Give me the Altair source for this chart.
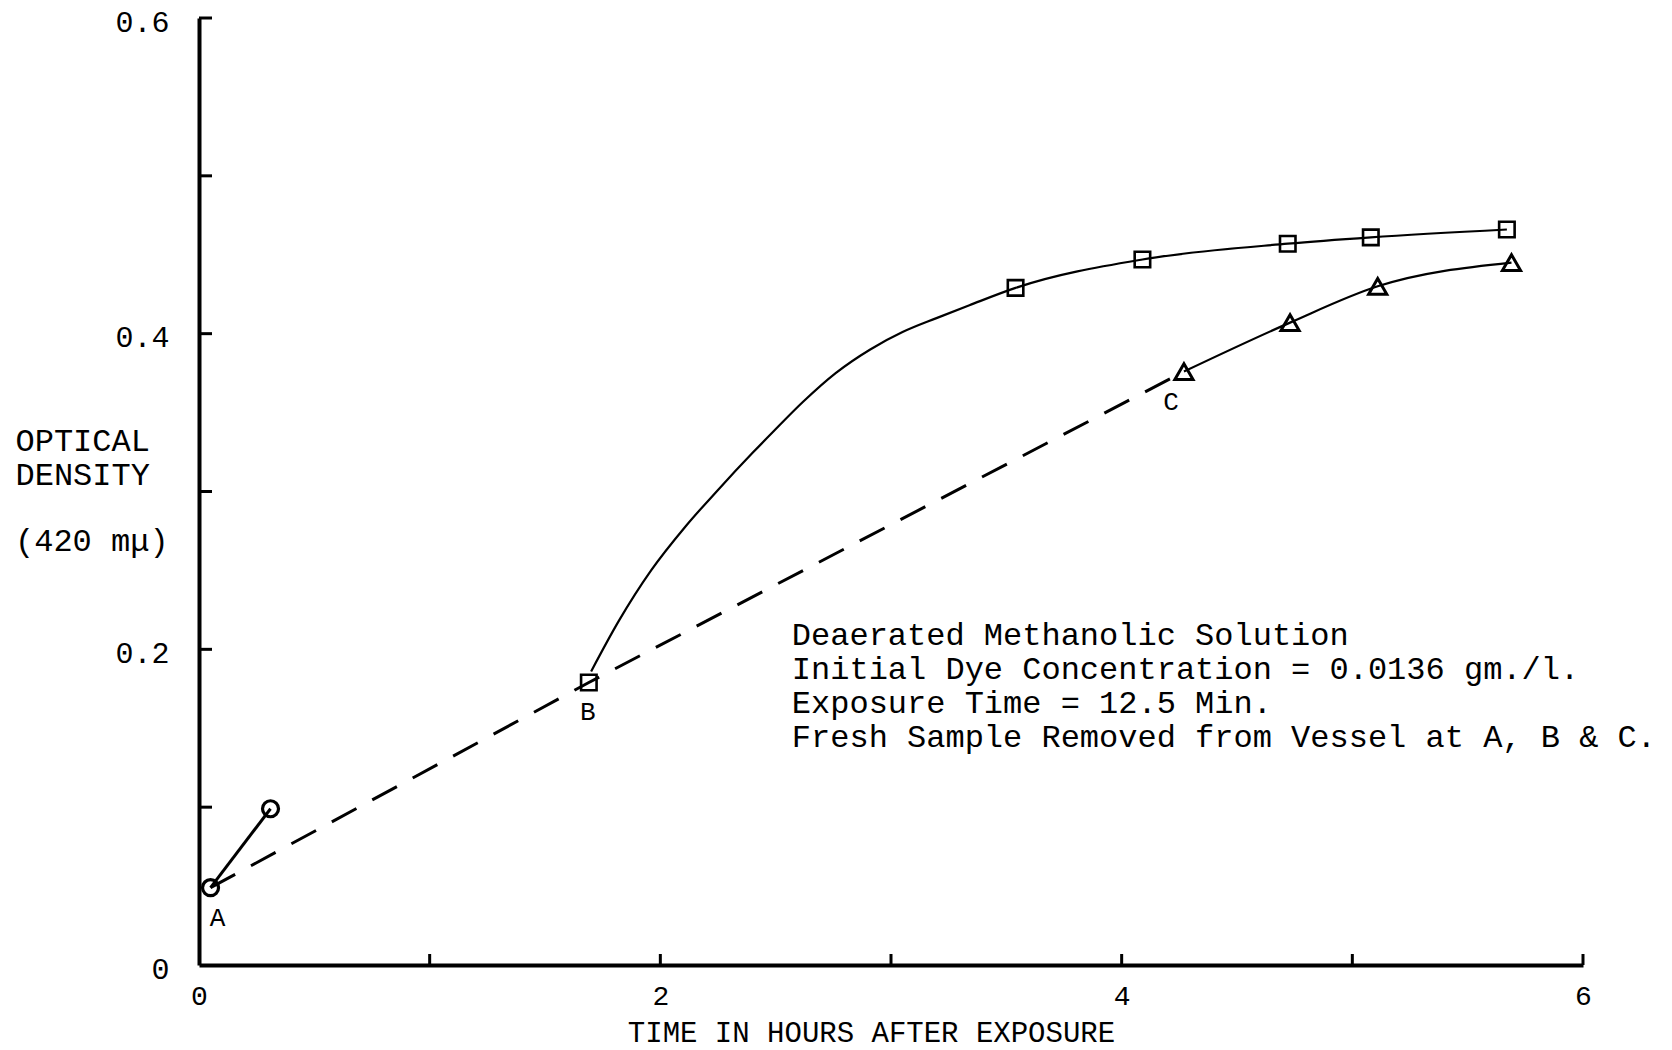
import altair as alt
import pandas as pd

# ---------------- data ----------------
# circles (series starting at A)
circle_t = [0.05, 0.31]
circle_od = [0.049, 0.099]

# squares (series starting at B)
square_t = [1.69, 3.54, 4.09, 4.72, 5.08, 5.67]
square_od = [0.179, 0.429, 0.447, 0.457, 0.461, 0.466]

# hand-drawn smooth curve through the squares
square_curve_t = [1.70, 1.82, 1.96, 2.11, 2.25, 2.40, 2.49, 2.62, 2.76, 2.91,
                  3.05, 3.20, 3.34, 3.54, 4.09, 4.72, 5.08, 5.67]
square_curve_od = [0.186, 0.218, 0.250, 0.278, 0.301, 0.3245, 0.338, 0.357, 0.375,
                   0.390, 0.401, 0.410, 0.418, 0.429, 0.447, 0.457, 0.461, 0.466]

# triangles (series starting at C)
triangle_t = [4.27, 4.73, 5.11, 5.69]
triangle_od = [0.376, 0.407, 0.430, 0.445]

# dashed line joining the fresh samples A, B, C
dash_t = [0.05, 1.69, 4.27]
dash_od = [0.049, 0.179, 0.376]

# point labels
label_text = ["A", "B", "C"]
label_t = [0.05, 1.69, 4.27]
label_od = [0.049, 0.179, 0.376]

# axis ticks and labels
x_tick_values = [1, 2, 3, 4, 5, 6]
x_label_values = [0, 2, 4, 6]
y_tick_values = [0.1, 0.2, 0.3, 0.4, 0.5, 0.6]
y_label_values = [0, 0.2, 0.4, 0.6]

x_title = "TIME IN HOURS AFTER EXPOSURE"
y_title = ["OPTICAL", "DENSITY"]
y_unit = "(420 m\u03bc)"

annot_lines = [
    "Deaerated Methanolic Solution",
    "Initial Dye Concentration = 0.0136 gm./l.",
    "Exposure Time = 12.5 Min.",
    "Fresh Sample Removed from Vessel at A, B & C.",
]
annot_t = 2.57
annot_od = 0.203

# ---------------- styling ----------------
FONT = "Liberation Mono"
W, H = 1384, 947
INK = "black"

xs = alt.Scale(domain=[0, 6], nice=False, zero=False)
ys = alt.Scale(domain=[0, 0.6], nice=False, zero=False)

x_axis = alt.Axis(
    values=x_label_values, labelExpr="format(datum.value, 'd')",
    ticks=False, grid=False, domain=True, domainWidth=4, domainColor=INK,
    labelFont=FONT, labelFontSize=28, labelColor=INK, labelPadding=17,
    labelFlush=False, labelOverlap=False,
    title=x_title, titleFont=FONT, titleFontSize=29, titleFontWeight="normal",
    titleColor=INK, titleX=672, titleY=76, titleAlign="center",
    titleBaseline="alphabetic",
)
y_axis = alt.Axis(
    values=y_label_values,
    labelExpr="datum.value == 0 ? '0' : format(datum.value, '.1f')",
    ticks=False, grid=False, domain=True, domainWidth=4, domainColor=INK,
    labelFont=FONT, labelFontSize=30, labelColor=INK, labelPadding=30,
    labelBaseline="middle", labelOffset=4,
    labelFlush=False, labelOverlap=False,
    title=y_title, titleFont=FONT, titleFontSize=32, titleFontWeight="normal",
    titleColor=INK, titleAngle=0, titleAlign="left", titleBaseline="alphabetic",
    titleX=-184, titleY=432, titleLineHeight=34,
)


def X():
    return alt.X("t:Q", scale=xs, axis=x_axis)


def Y():
    return alt.Y("od:Q", scale=ys, axis=y_axis)


def df(t, od):
    return pd.DataFrame({"t": t, "od": od})


layers = []

# inward tick marks
layers.append(
    alt.Chart(pd.DataFrame({"od": y_tick_values}))
    .mark_rule(color=INK, strokeWidth=3)
    .encode(y=Y(), x=alt.value(0), x2=alt.value(13))
)
layers.append(
    alt.Chart(pd.DataFrame({"t": x_tick_values}))
    .mark_rule(color=INK, strokeWidth=3)
    .encode(x=X(), y=alt.value(H), y2=alt.value(H - 11))
)

# dashed line A-B-C
layers.append(
    alt.Chart(df(dash_t, dash_od))
    .mark_line(color=INK, strokeWidth=3, strokeDash=[28, 18])
    .encode(x=X(), y=Y(), order="t:Q")
)
# circle series line
layers.append(
    alt.Chart(df(circle_t, circle_od))
    .mark_line(color=INK, strokeWidth=3)
    .encode(x=X(), y=Y())
)
# square curve
layers.append(
    alt.Chart(df(square_curve_t, square_curve_od))
    .mark_line(color=INK, strokeWidth=2.2, interpolate="monotone")
    .encode(x=X(), y=Y())
)
# triangle curve
layers.append(
    alt.Chart(df(triangle_t, triangle_od))
    .mark_line(color=INK, strokeWidth=2.2, interpolate="monotone")
    .encode(x=X(), y=Y())
)

# markers
layers.append(
    alt.Chart(df(circle_t, circle_od))
    .mark_point(shape="circle", size=256, filled=False, color=INK,
                strokeWidth=3.2, opacity=1)
    .encode(x=X(), y=Y())
)
layers.append(
    alt.Chart(df(square_t, square_od))
    .mark_point(shape="square", size=240, filled=False, color=INK,
                strokeWidth=2.6, opacity=1)
    .encode(x=X(), y=Y())
)
layers.append(
    alt.Chart(df(triangle_t, triangle_od))
    .mark_point(shape="triangle-up", size=330, filled=False, color=INK,
                strokeWidth=3, opacity=1)
    .encode(x=X(), y=Y())
)

# point labels A, B, C
label_dx = [7, -1, -13]
for txt, t, od, dx in zip(label_text, label_t, label_od, label_dx):
    layers.append(
        alt.Chart(pd.DataFrame({"t": [t], "od": [od], "lab": [txt]}))
        .mark_text(font=FONT, fontSize=26, color=INK, dx=dx, dy=30,
                   baseline="middle", align="center")
        .encode(x=X(), y=Y(), text="lab:N")
    )

# annotation block
layers.append(
    alt.Chart(pd.DataFrame({"t": [annot_t], "od": [annot_od]}))
    .mark_text(text=annot_lines, font=FONT, fontSize=32, color=INK,
               align="left", baseline="alphabetic", lineHeight=34)
    .encode(x=X(), y=Y())
)

# unit line of the y-axis title, set one blank line below "DENSITY"
layers.append(
    alt.Chart(pd.DataFrame({"lab": [y_unit]}))
    .mark_text(font=FONT, fontSize=32, color=INK, align="left",
               baseline="alphabetic")
    .encode(x=alt.value(-184), y=alt.value(533), text="lab:N")
)

chart = (
    alt.layer(*layers)
    .properties(
        width=W, height=H,
        padding={"left": 199, "top": 18, "right": 89, "bottom": 85},
        autosize=alt.AutoSizeParams(type="none"),
        background="white",
    )
    .configure_view(stroke=None)
)

chart.save("out.html", embed_options={"renderer": "svg", "actions": False})
